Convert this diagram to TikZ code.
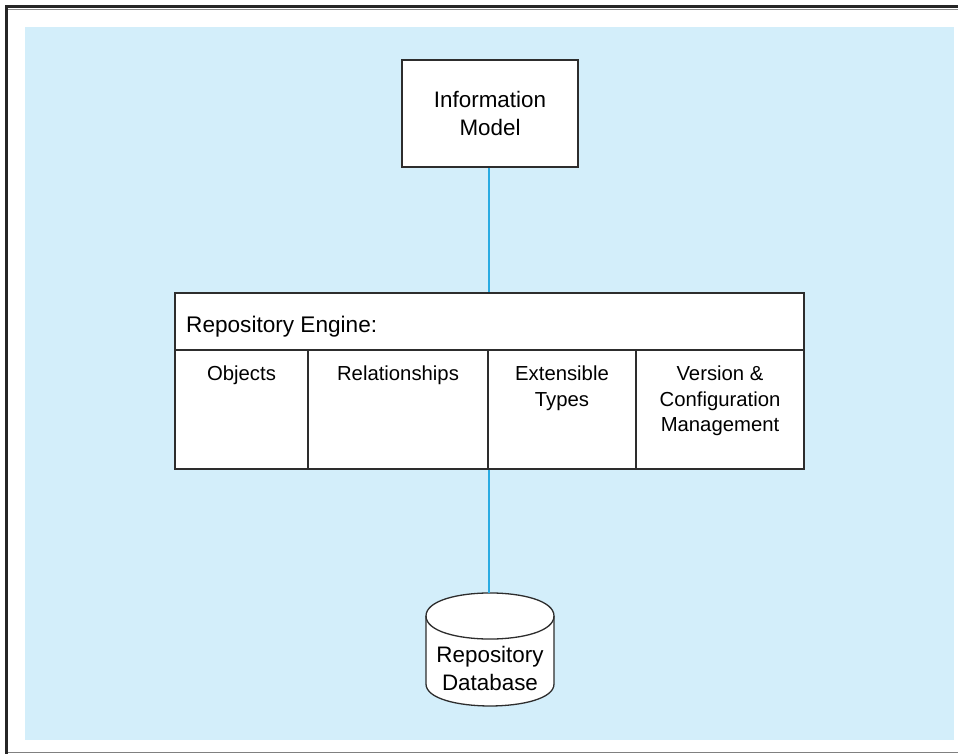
\documentclass[tikz,border=0pt]{standalone}
\usepackage{fontspec}
\setmainfont{Liberation Sans}
\usepackage{tikz}
\definecolor{panelblue}{RGB}{211,238,250}
\definecolor{linkblue}{RGB}{41,171,226}
\definecolor{inkgray}{RGB}{45,45,45}

\begin{document}
\begin{tikzpicture}[x={(1pt,0pt)},y={(0pt,-1pt)},
  box/.style={draw=inkgray, line width=1.3pt, fill=white, inner sep=0pt},
  link/.style={draw=linkblue, line width=1.4pt},
  big/.style={font=\fontsize{22.4}{28}\selectfont, align=center, inner sep=0pt},
  small/.style={font=\fontsize{20.3}{25.3}\selectfont, align=center, inner sep=0pt, anchor=north}]
\useasboundingbox (0,0) rectangle (958,754);
\fill[panelblue] (25,27) rectangle (954,740);
\draw[black!45, line width=1pt] (7.5,9.6) -- (958,9.6);
\draw[black!50, line width=1.2pt] (6,752.5) -- (958,752.5);
\draw[black!85, line width=3pt] (6,754) |- (958,7);
% top box
\node[box, big, minimum width=176pt, minimum height=107pt] (info) at (490,113.5) {Information\\Model};
% engine
\node[box, minimum width=629pt, minimum height=176pt] (engine) at (489.5,381) {};
\node[anchor=base west, inner sep=0pt, font=\fontsize{22.6}{28}\selectfont] (enghead) at (186,332) {Repository Engine:};
\draw[inkgray, line width=1.3pt] (175,350) -- (804,350);
\foreach \x in {308,488,636}
  \draw[inkgray, line width=1.3pt] (\x,350) -- (\x,469);
\node[small] (objects) at (241.5,366) {Objects};
\node[small] (relations) at (398,366) {Relationships};
\node[small] (types) at (562,366) {Extensible\\Types};
\node[small] (version) at (720,366) {Version \&\\Configuration\\Management};
% database
\coordinate (dbtop) at (489,593);
\draw[box] (426,616) -- (426,684) .. controls (426,713.3) and (554,713.3) .. (554,684)
  -- (554,616) .. controls (554,585.3) and (426,585.3) .. cycle;
\draw[inkgray, line width=1.3pt] (426,616) .. controls (426,646.7) and (554,646.7) .. (554,616);
\node[big] (db) at (490,668.5) {Repository\\Database};
% links
\draw[link] (info.south -| dbtop) -- (engine.north -| dbtop);
\draw[link] (engine.south -| dbtop) -- (dbtop);
\end{tikzpicture}
\end{document}
